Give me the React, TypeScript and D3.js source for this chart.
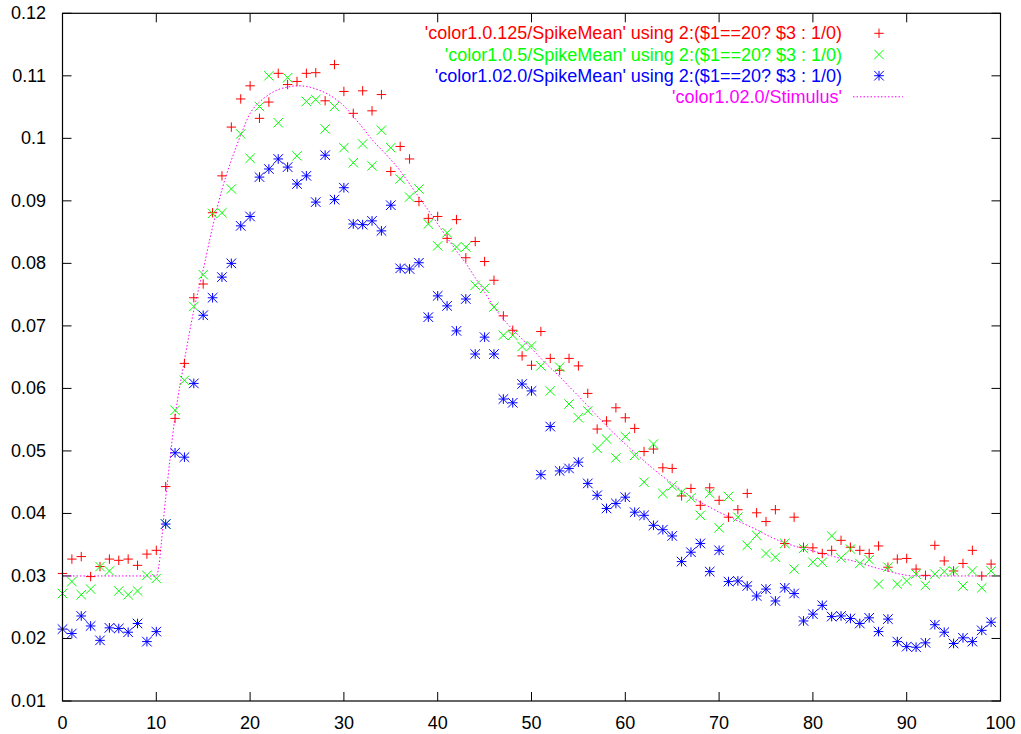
import React from "react";
import * as d3 from "d3";

const xs: number[] = Array.from({ length: 100 }, (_, i) => i);

const red: number[] = [
  0.0304, 0.0327, 0.0331, 0.0299, 0.0315, 0.0327, 0.0325, 0.0327, 0.0317, 0.0335,
  0.0341, 0.0443, 0.0552, 0.0640, 0.0745, 0.0767, 0.0881, 0.0940, 0.1018, 0.1063,
  0.1084, 0.1032, 0.1058, 0.1104, 0.1086, 0.1091, 0.1104, 0.1105, 0.1060, 0.1118,
  0.1075, 0.1040, 0.1076, 0.1044, 0.1070, 0.0947, 0.0987, 0.0967, 0.0899, 0.0872,
  0.0875, 0.0840, 0.0870, 0.0809, 0.0835, 0.0803, 0.0773, 0.0716, 0.0693, 0.0652,
  0.0637, 0.0691, 0.0648, 0.0629, 0.0648, 0.0636, 0.0592, 0.0535, 0.0548, 0.0569,
  0.0553, 0.0536, 0.0499, 0.0503, 0.0473, 0.0472, 0.0428, 0.0440, 0.0413, 0.0441,
  0.0421, 0.0394, 0.0406, 0.0432, 0.0401, 0.0387, 0.0406, 0.0352, 0.0394, 0.0346,
  0.0345, 0.0336, 0.0341, 0.0357, 0.0346, 0.0341, 0.0336, 0.0348, 0.0314, 0.0327,
  0.0328, 0.0311, 0.0301, 0.0349, 0.0324, 0.0308, 0.0320, 0.0341, 0.0300, 0.0319,
];

const green: number[] = [
  0.0272, 0.0291, 0.0270, 0.0279, 0.0315, 0.0308, 0.0276, 0.0270, 0.0276, 0.0301,
  0.0296, 0.0383, 0.0565, 0.0613, 0.0731, 0.0782, 0.0880, 0.0881, 0.0919, 0.1007,
  0.0968, 0.1051, 0.1100, 0.1025, 0.1097, 0.0972, 0.1059, 0.1062, 0.1015, 0.1051,
  0.0985, 0.0961, 0.0991, 0.0956, 0.1013, 0.0985, 0.0935, 0.0906, 0.0919, 0.0863,
  0.0828, 0.0849, 0.0826, 0.0826, 0.0765, 0.0760, 0.0730, 0.0685, 0.0685, 0.0667,
  0.0668, 0.0636, 0.0596, 0.0634, 0.0575, 0.0553, 0.0564, 0.0504, 0.0519, 0.0489,
  0.0523, 0.0493, 0.0450, 0.0511, 0.0432, 0.0444, 0.0434, 0.0425, 0.0397, 0.0432,
  0.0377, 0.0427, 0.0394, 0.0349, 0.0365, 0.0336, 0.0330, 0.0352, 0.0311, 0.0344,
  0.0322, 0.0322, 0.0364, 0.0329, 0.0343, 0.0320, 0.0326, 0.0287, 0.0314, 0.0287,
  0.0292, 0.0303, 0.0285, 0.0303, 0.0307, 0.0308, 0.0284, 0.0308, 0.0281, 0.0308,
];

const blue: number[] = [
  0.0215, 0.0208, 0.0236, 0.0220, 0.0197, 0.0217, 0.0216, 0.0210, 0.0224, 0.0195,
  0.0211, 0.0383, 0.0497, 0.0490, 0.0608, 0.0717, 0.0745, 0.0778, 0.0800, 0.0860,
  0.0875, 0.0938, 0.0951, 0.0967, 0.0954, 0.0927, 0.0940, 0.0898, 0.0973, 0.0902,
  0.0921, 0.0863, 0.0862, 0.0868, 0.0852, 0.0893, 0.0792, 0.0791, 0.0801, 0.0714,
  0.0748, 0.0732, 0.0692, 0.0743, 0.0655, 0.0682, 0.0655, 0.0583, 0.0577, 0.0607,
  0.0596, 0.0462, 0.0539, 0.0468, 0.0472, 0.0482, 0.0448, 0.0429, 0.0408, 0.0416,
  0.0426, 0.0402, 0.0397, 0.0381, 0.0374, 0.0364, 0.0323, 0.0338, 0.0352, 0.0307,
  0.0341, 0.0291, 0.0292, 0.0284, 0.0268, 0.0279, 0.0260, 0.0281, 0.0272, 0.0228,
  0.0239, 0.0253, 0.0235, 0.0236, 0.0232, 0.0224, 0.0233, 0.0211, 0.0231, 0.0195,
  0.0187, 0.0186, 0.0193, 0.0222, 0.0210, 0.0192, 0.0201, 0.0195, 0.0213, 0.0226,
];

const stimulus: number[] = [
  0.0300, 0.0300, 0.0300, 0.0300, 0.0300, 0.0300, 0.0300, 0.0300, 0.0300, 0.0300,
  0.0300, 0.0425, 0.0555, 0.0645, 0.0725, 0.0790, 0.0858, 0.0918, 0.0965, 0.1005,
  0.1040, 0.1058, 0.1070, 0.1078, 0.1082, 0.1084, 0.1083, 0.1079, 0.1073, 0.1064,
  0.1052, 0.1035, 0.1017, 0.0998, 0.0982, 0.0966, 0.0948, 0.0927, 0.0906, 0.0885,
  0.0863, 0.0841, 0.0820, 0.0800, 0.0777, 0.0754, 0.0730, 0.0711, 0.0694, 0.0679,
  0.0664, 0.0648, 0.0633, 0.0619, 0.0603, 0.0588, 0.0572, 0.0556, 0.0540, 0.0525,
  0.0511, 0.0497, 0.0484, 0.0471, 0.0459, 0.0448, 0.0437, 0.0427, 0.0418, 0.0410,
  0.0402, 0.0395, 0.0388, 0.0381, 0.0374, 0.0366, 0.0359, 0.0353, 0.0348, 0.0344,
  0.0340, 0.0336, 0.0332, 0.0328, 0.0325, 0.0321, 0.0316, 0.0312, 0.0308, 0.0304,
  0.0301, 0.0300, 0.0300, 0.0300, 0.0300, 0.0300, 0.0300, 0.0300, 0.0300, 0.0300,
];

const xTicks: number[] = [0, 10, 20, 30, 40, 50, 60, 70, 80, 90, 100];
const yTicks: number[] = [0.01, 0.02, 0.03, 0.04, 0.05, 0.06, 0.07, 0.08, 0.09, 0.1, 0.11, 0.12];
const yTickLabels: string[] = ["0.01", "0.02", "0.03", "0.04", "0.05", "0.06", "0.07", "0.08", "0.09", "0.1", "0.11", "0.12"];

const legendLabels: string[] = [
  "'color1.0.125/SpikeMean' using 2:($1==20? $3 : 1/0)",
  "'color1.0.5/SpikeMean' using 2:($1==20? $3 : 1/0)",
  "'color1.02.0/SpikeMean' using 2:($1==20? $3 : 1/0)",
  "'color1.02.0/Stimulus'",
];

const W = 1021;
const H = 734;
const L = 62.5, R = 1000.5, T = 13.3, B = 701;
const FONT = "'Liberation Sans', Arial, Helvetica, sans-serif";

const plusPath = (x: number, y: number, s: number) =>
  `M${x - s},${y}H${x + s}M${x},${y - s}V${y + s}`;
const crossPath = (x: number, y: number, s: number) =>
  `M${x - s},${y - s}L${x + s},${y + s}M${x - s},${y + s}L${x + s},${y - s}`;
const starPath = (x: number, y: number, s: number) => plusPath(x, y, s) + crossPath(x, y, s);

export default function App() {
  const x = d3.scaleLinear().domain([0, 100]).range([L, R]);
  const y = d3.scaleLinear().domain([0.01, 0.12]).range([B, T]);
  const line = d3
    .line<number>()
    .x((_, i) => x(xs[i]))
    .y((d) => y(d))
    .curve(d3.curveMonotoneX);

  const series = [
    { data: red, color: "#ff0000", shape: plusPath, s: 4.7 },
    { data: green, color: "#00ff00", shape: crossPath, s: 4.7 },
    { data: blue, color: "#0000ff", shape: starPath, s: 4.8 },
  ];

  const tick = 9;
  const legendTextX = 842;
  const legendMarkX = 879;
  const legendY = [33.3, 54.5, 75.7, 96.8];
  const legendColors = ["#ff0000", "#00ff00", "#0000ff", "#ff00ff"];

  return (
    <svg
      width={W}
      height={H}
      style={{ position: "absolute", left: 0, top: 0, background: "#fff" }}
      fontFamily={FONT}
    >
      <rect x={0} y={0} width={W} height={H} fill="#fff" />
      <g stroke="#000" strokeWidth={1}>
        {xTicks.map((t) => (
          <g key={"xt" + t}>
            <line x1={x(t)} x2={x(t)} y1={B} y2={B - tick} />
            <line x1={x(t)} x2={x(t)} y1={T} y2={T + tick} />
          </g>
        ))}
        {yTicks.map((t) => (
          <g key={"yt" + t}>
            <line x1={L} x2={L + tick} y1={y(t)} y2={y(t)} />
            <line x1={R} x2={R - tick} y1={y(t)} y2={y(t)} />
          </g>
        ))}
      </g>
      <g fontSize={18} fill="#000">
        {xTicks.map((t) => (
          <text key={"xl" + t} x={x(t)} y={722.5} textAnchor="middle" dominantBaseline="central">
            {t}
          </text>
        ))}
        {yTicks.map((t, i) => (
          <text key={"yl" + t} x={46} y={y(t)} textAnchor="end" dominantBaseline="central">
            {yTickLabels[i]}
          </text>
        ))}
      </g>
      <path
        d={line(stimulus) || ""}
        fill="none"
        stroke="#ff00ff"
        strokeWidth={1}
        strokeDasharray="1.5,2"
      />
      {series.map((sr, si) => (
        <path
          key={"s" + si}
          d={sr.data.map((v, i) => sr.shape(x(xs[i]), y(v), sr.s)).join("")}
          fill="none"
          stroke={sr.color}
          strokeWidth={1}
        />
      ))}
      <g fontSize={18}>
        {legendLabels.map((lab, i) => (
          <text
            key={"lg" + i}
            x={legendTextX}
            y={legendY[i]}
            textAnchor="end"
            dominantBaseline="central"
            fill={legendColors[i]}
          >
            {lab}
          </text>
        ))}
        {series.map((sr, i) => (
          <path
            key={"lm" + i}
            d={sr.shape(legendMarkX, legendY[i], sr.s)}
            fill="none"
            stroke={sr.color}
            strokeWidth={1}
          />
        ))}
        <line
          x1={853}
          x2={903}
          y1={legendY[3]}
          y2={legendY[3]}
          stroke="#ff00ff"
          strokeWidth={1}
          strokeDasharray="1.5,2"
        />
      </g>
      <rect x={L} y={T} width={R - L} height={B - T} fill="none" stroke="#000" strokeWidth={1.2} />
    </svg>
  );
}
